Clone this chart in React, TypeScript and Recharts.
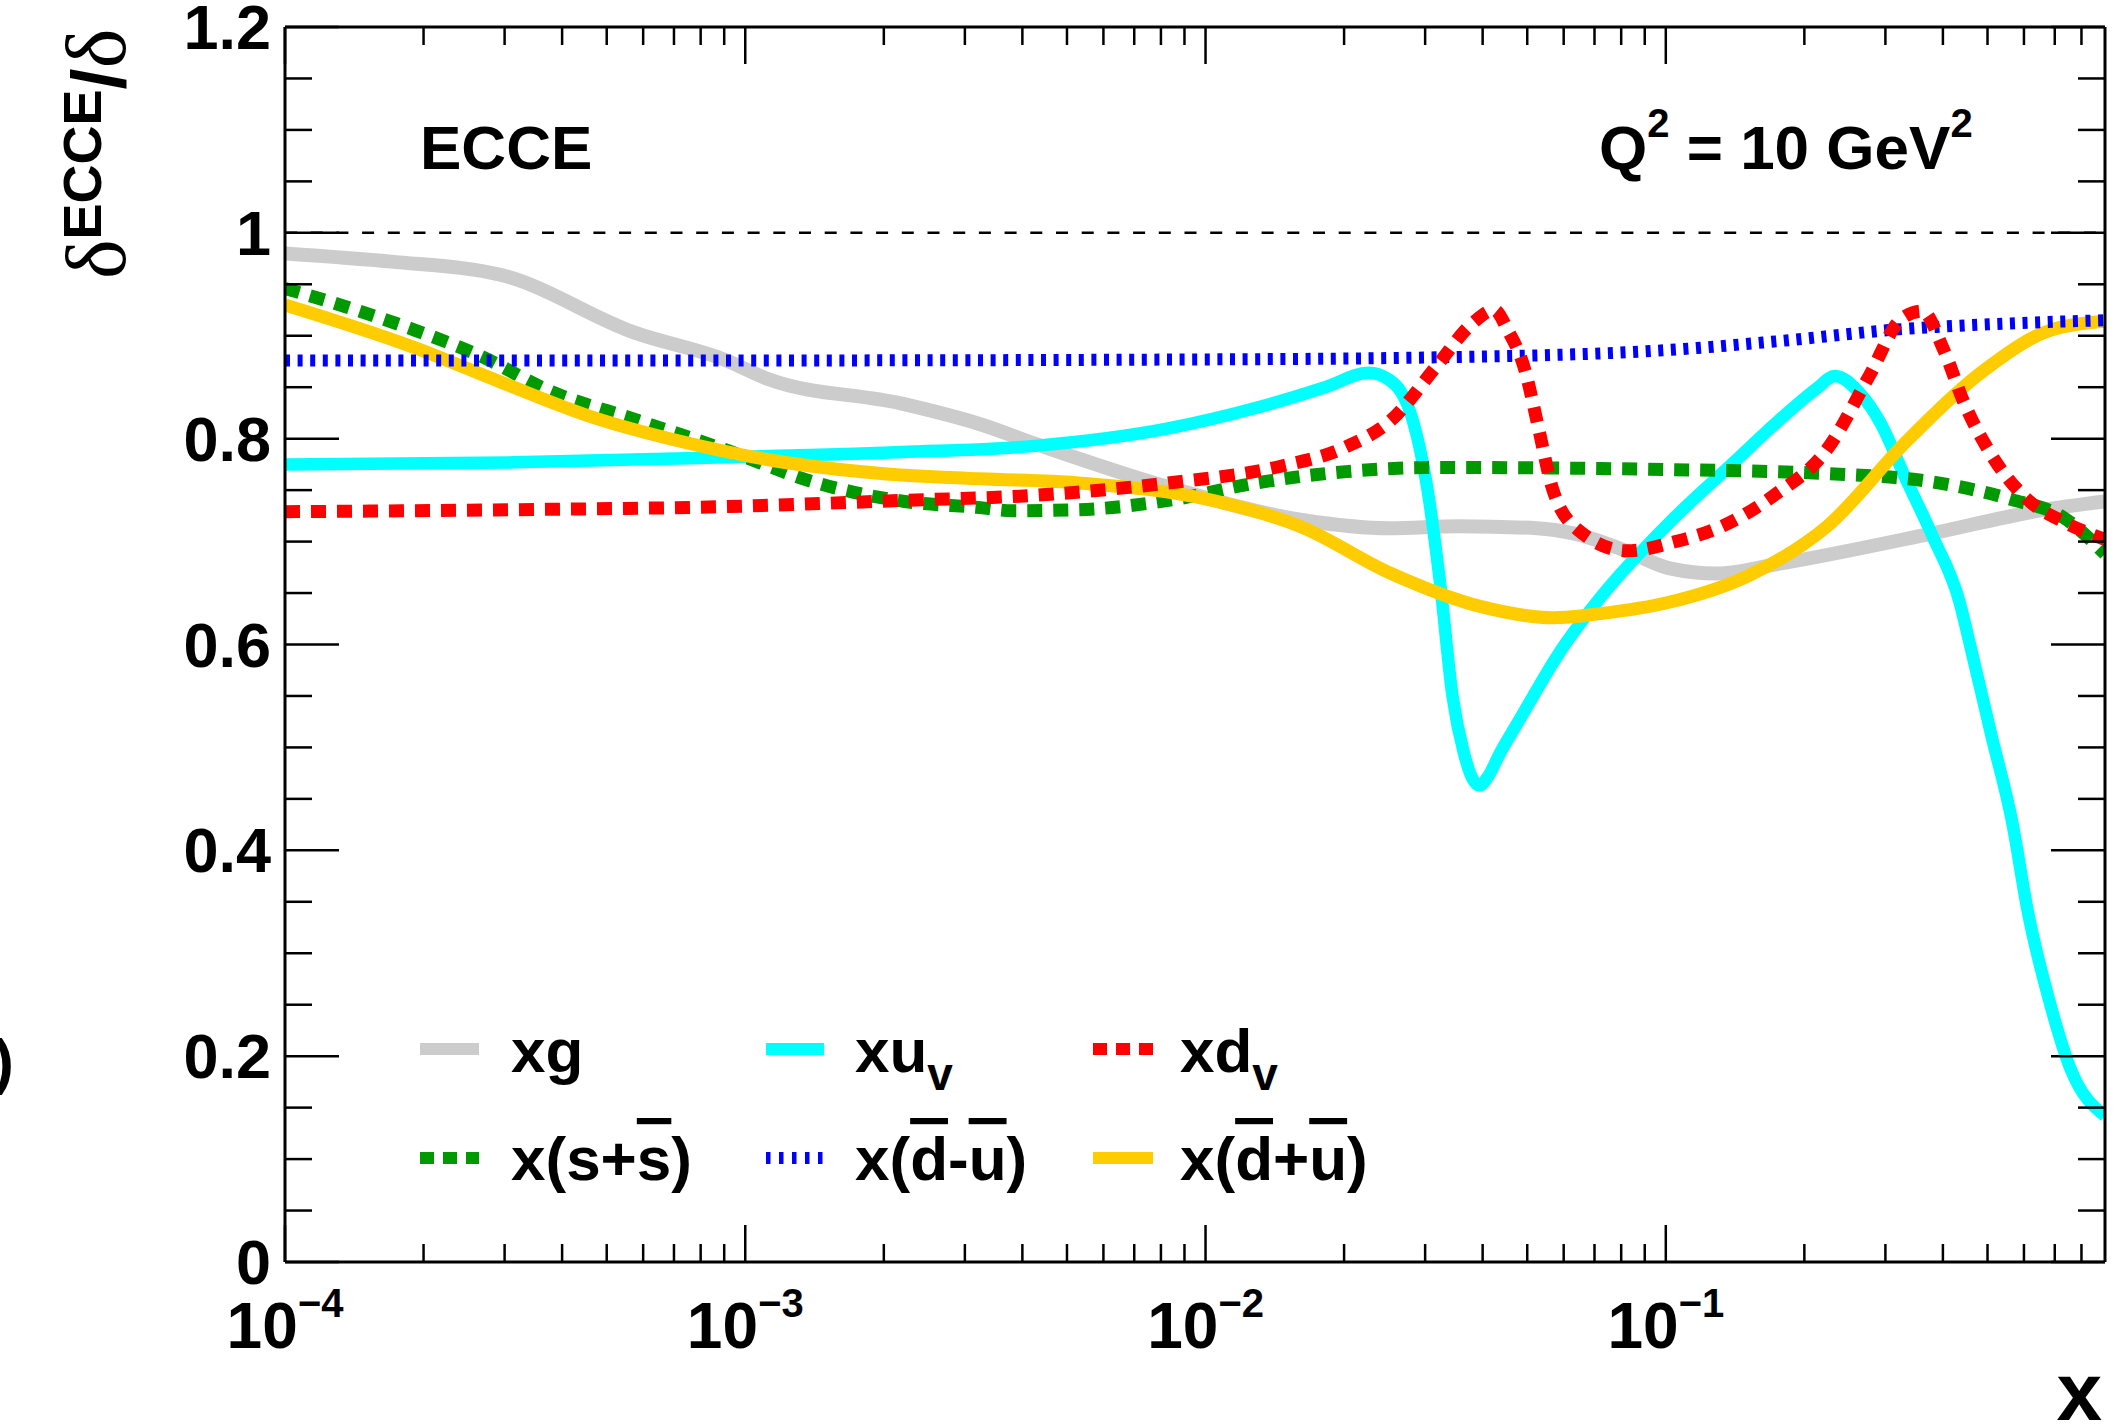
import React from 'react';
import { LineChart, Line, XAxis, YAxis, ReferenceLine } from 'recharts';

const W = 2127;
const H = 1427;
const FF = "'Liberation Sans', Arial, Helvetica, sans-serif";
const SERIF = "'Liberation Serif', 'DejaVu Serif', serif";

// ---- axis ticks ----
const X_TICKS = [
  0.0001, 0.0002, 0.0003, 0.0004, 0.0005, 0.0006, 0.0007, 0.0008, 0.0009,
  0.001, 0.002, 0.003, 0.004, 0.005, 0.006, 0.007, 0.008, 0.009,
  0.01, 0.02, 0.03, 0.04, 0.05, 0.06, 0.07, 0.08, 0.09,
  0.1, 0.2, 0.3, 0.4, 0.5, 0.6, 0.7, 0.8,
];
const X_MAJOR = [0.0001, 0.001, 0.01, 0.1];
const X_MAJOR_EXP = ['\u22124', '\u22123', '\u22122', '\u22121'];
const Y_TICKS = [
  0, 0.05, 0.1, 0.15, 0.2, 0.25, 0.3, 0.35, 0.4, 0.45, 0.5, 0.55, 0.6,
  0.65, 0.7, 0.75, 0.8, 0.85, 0.9, 0.95, 1, 1.05, 1.1, 1.15, 1.2,
];
const Y_MAJOR = [0, 0.2, 0.4, 0.6, 0.8, 1, 1.2];
const Y_LABELS = ['0', '0.2', '0.4', '0.6', '0.8', '1', '1.2'];

// ---- series ----
const XG_X = [0.0001, 0.00017, 0.000295, 0.000575, 0.00091, 0.00112, 0.00219, 0.00324, 0.00427, 0.0083, 0.0162, 0.0251, 0.0355, 0.0525, 0.063, 0.083, 0.102, 0.129, 0.174, 0.38, 0.646, 0.9];
const XG_Y = [0.98, 0.972, 0.959, 0.903, 0.876, 0.858, 0.834, 0.814, 0.795, 0.753, 0.721, 0.713, 0.715, 0.713, 0.708, 0.69, 0.674, 0.669, 0.678, 0.708, 0.73, 0.739];

const XUV_X = [0.0001, 0.000316, 0.00091, 0.00219, 0.00427, 0.0083, 0.0129, 0.0182, 0.0226, 0.0251, 0.0282, 0.0303, 0.0324, 0.0344, 0.0364, 0.038, 0.0394, 0.041, 0.0437, 0.0481, 0.0589, 0.0722, 0.1016, 0.139, 0.1816, 0.213, 0.233, 0.263, 0.292, 0.333, 0.381, 0.435, 0.458, 0.509, 0.566, 0.612, 0.681, 0.757, 0.9];
const XUV_Y = [0.775, 0.777, 0.782, 0.787, 0.793, 0.81, 0.83, 0.85, 0.864, 0.857, 0.818, 0.753, 0.656, 0.55, 0.495, 0.47, 0.463, 0.471, 0.495, 0.527, 0.593, 0.646, 0.718, 0.775, 0.823, 0.849, 0.861, 0.845, 0.816, 0.76, 0.704, 0.641, 0.6, 0.513, 0.427, 0.34, 0.254, 0.188, 0.142];

const XDV_X = [0.0001, 0.000316, 0.00091, 0.00219, 0.00427, 0.0083, 0.0145, 0.0202, 0.0253, 0.0317, 0.038, 0.0424, 0.0453, 0.0494, 0.0528, 0.0566, 0.0646, 0.0824, 0.105, 0.1327, 0.172, 0.2244, 0.2767, 0.3243, 0.3606, 0.401, 0.4446, 0.507, 0.61, 0.733, 0.9];
const XDV_Y = [0.729, 0.731, 0.734, 0.74, 0.745, 0.757, 0.773, 0.792, 0.818, 0.87, 0.912, 0.925, 0.906, 0.867, 0.812, 0.753, 0.711, 0.691, 0.7, 0.715, 0.745, 0.79, 0.861, 0.916, 0.924, 0.887, 0.835, 0.786, 0.741, 0.719, 0.702];

const XSS_X = [0.0001, 0.000136, 0.00019, 0.000267, 0.000373, 0.000582, 0.000908, 0.00143, 0.00222, 0.00324, 0.0038, 0.00528, 0.0083, 0.0129, 0.0202, 0.0317, 0.072, 0.1016, 0.2244, 0.379, 0.562, 0.733, 0.9];
const XSS_Y = [0.946, 0.928, 0.906, 0.88, 0.847, 0.818, 0.789, 0.757, 0.739, 0.733, 0.73, 0.731, 0.74, 0.757, 0.768, 0.772, 0.771, 0.77, 0.766, 0.758, 0.741, 0.723, 0.688];

const XDMU_X = [0.0001, 0.001, 0.01, 0.0316, 0.1, 0.178, 0.316, 0.562, 0.9];
const XDMU_Y = [0.876, 0.876, 0.877, 0.879, 0.886, 0.895, 0.906, 0.912, 0.915];

const XDPU_X = [0.0001, 0.00019, 0.000298, 0.000465, 0.00073, 0.00114, 0.002, 0.00324, 0.00528, 0.01035, 0.0162, 0.0253, 0.0395, 0.0569, 0.072, 0.1016, 0.1514, 0.2244, 0.3327, 0.4966, 0.681, 0.9];
const XDPU_Y = [0.93, 0.889, 0.854, 0.821, 0.797, 0.779, 0.766, 0.761, 0.757, 0.74, 0.714, 0.669, 0.637, 0.626, 0.63, 0.641, 0.667, 0.715, 0.797, 0.868, 0.905, 0.914];

const toData = (xs: number[], ys: number[]) => xs.map((x, i) => ({ x, y: ys[i] }));

const SERIES = [
  { key: 'xg', data: toData(XG_X, XG_Y), color: '#cccccc', width: 14, dash: undefined as string | undefined },
  { key: 'xuv', data: toData(XUV_X, XUV_Y), color: '#00ffff', width: 12.5, dash: undefined },
  { key: 'xss', data: toData(XSS_X, XSS_Y), color: '#009900', width: 13, dash: '15 11' },
  { key: 'xdpu', data: toData(XDPU_X, XDPU_Y), color: '#ffcc00', width: 13, dash: undefined },
  { key: 'xdmu', data: toData(XDMU_X, XDMU_Y), color: '#0000ff', width: 12, dash: '5 7.6' },
  { key: 'xdv', data: toData(XDV_X, XDV_Y), color: '#ff0000', width: 13, dash: '15 11' },
];

// ---- ticks ----
const BottomTick = (p: any) => {
  const { x, y, payload } = p;
  const i = X_MAJOR.indexOf(payload.value);
  const major = i >= 0;
  return (
    <g>
      <line x1={x} x2={x} y1={y} y2={y - (major ? 37 : 18)} stroke="#000" strokeWidth={2.5} />
      {major && (
        <text x={x} y={y + 86} textAnchor="middle" fontFamily={FF} fontWeight="bold" fontSize={64} fill="#000">
          10
          <tspan dy={-31} fontSize={40}>{X_MAJOR_EXP[i]}</tspan>
        </text>
      )}
    </g>
  );
};

const TopTick = (p: any) => {
  const { x, y, payload } = p;
  const major = X_MAJOR.indexOf(payload.value) >= 0;
  return <line x1={x} x2={x} y1={y} y2={y + (major ? 37 : 18)} stroke="#000" strokeWidth={2.5} />;
};

const LeftTick = (p: any) => {
  const { x, y, payload } = p;
  const i = Y_MAJOR.indexOf(payload.value);
  const major = i >= 0;
  return (
    <g>
      <line x1={x} x2={x + (major ? 54 : 27)} y1={y} y2={y} stroke="#000" strokeWidth={2.5} />
      {major && (
        <text x={x - 14} y={y + 22} textAnchor="end" fontFamily={FF} fontWeight="bold" fontSize={63} fill="#000">
          {Y_LABELS[i]}
        </text>
      )}
    </g>
  );
};

const RightTick = (p: any) => {
  const { x, y, payload } = p;
  const major = Y_MAJOR.indexOf(payload.value) >= 0;
  return <line x1={x} x2={x - (major ? 54 : 27)} y1={y} y2={y} stroke="#000" strokeWidth={2.5} />;
};

const axisLine = { stroke: '#000', strokeWidth: 3 };

const txt = { fontFamily: FF, fontWeight: 'bold' as const, fill: '#000' };
const over = { textDecoration: 'overline', textDecorationThickness: '2px' } as any;

export default function App() {
  return (
    <div style={{ position: 'absolute', left: 0, top: 0, width: W, height: H, background: '#fff' }}>
      <LineChart width={W} height={H} margin={{ top: 0, right: 0, bottom: 0, left: 0 }}>
        <XAxis
          xAxisId={0}
          dataKey="x"
          type="number"
          scale="log"
          domain={[0.0001, 0.9]}
          allowDataOverflow
          ticks={X_TICKS}
          interval={0}
          height={165}
          tickSize={0}
          tickMargin={0}
          tickLine={false}
          axisLine={axisLine}
          tick={(p: any) => <BottomTick {...p} />}
        />
        <XAxis
          xAxisId="top"
          orientation="top"
          dataKey="x"
          type="number"
          scale="log"
          domain={[0.0001, 0.9]}
          allowDataOverflow
          ticks={X_TICKS}
          interval={0}
          height={27}
          tickSize={0}
          tickMargin={0}
          tickLine={false}
          axisLine={axisLine}
          tick={(p: any) => <TopTick {...p} />}
        />
        <YAxis
          yAxisId={0}
          type="number"
          domain={[0, 1.2]}
          allowDataOverflow
          ticks={Y_TICKS}
          interval={0}
          width={285}
          tickSize={0}
          tickMargin={0}
          tickLine={false}
          axisLine={axisLine}
          tick={(p: any) => <LeftTick {...p} />}
        />
        <YAxis
          yAxisId="right"
          orientation="right"
          type="number"
          domain={[0, 1.2]}
          allowDataOverflow
          ticks={Y_TICKS}
          interval={0}
          width={22}
          tickSize={0}
          tickMargin={0}
          tickLine={false}
          axisLine={axisLine}
          tick={(p: any) => <RightTick {...p} />}
        />
        <ReferenceLine y={1} stroke="#000" strokeWidth={2.5} strokeDasharray="12 13.7" ifOverflow="hidden" />
        {SERIES.map((s) => (
          <Line
            key={s.key}
            data={s.data}
            dataKey="y"
            type="monotone"
            stroke={s.color}
            strokeWidth={s.width}
            strokeDasharray={s.dash}
            dot={false}
            activeDot={false}
            isAnimationActive={false}
          />
        ))}
      </LineChart>

      <svg width={W} height={H} style={{ position: 'absolute', left: 0, top: 0, pointerEvents: 'none' }}>
        {/* y-axis title */}
        <text transform="rotate(-90)" x={-279} y={125} fill="#000">
          <tspan fontFamily={SERIF} fontSize={84}>δ</tspan>
          <tspan fontFamily={FF} fontWeight="bold" fontSize={54} dy={-24}>ECCE</tspan>
          <tspan fontFamily={FF} fontWeight="bold" fontSize={76} dy={24}>/</tspan>
          <tspan fontFamily={SERIF} fontSize={84}>δ</tspan>
        </text>
        {/* partially visible glyph at left edge */}
        <text x={14} y={1082} textAnchor="end" fontSize={62} {...txt}>)</text>

        <text x={420} y={169} fontSize={62} {...txt}>ECCE</text>
        <text x={1599} y={169} fontSize={62} {...txt}>
          Q<tspan dy={-32} fontSize={40}>2</tspan>
          <tspan dy={32} fontSize={62}> = 10 GeV</tspan>
          <tspan dy={-32} fontSize={40}>2</tspan>
        </text>

        {/* x-axis title */}
        <text x={2102} y={1420} textAnchor="end" fontSize={82} {...txt}>x</text>

        {/* legend */}
        <line x1={420} x2={479} y1={1049} y2={1049} stroke="#cccccc" strokeWidth={12} />
        <text x={511} y={1072} fontSize={62} {...txt}>xg</text>

        <line x1={766} x2={824} y1={1049} y2={1049} stroke="#00ffff" strokeWidth={12} />
        <text x={855} y={1072} fontSize={62} {...txt}>
          xu<tspan dy={18} fontSize={46}>v</tspan>
        </text>

        <line x1={1093} x2={1153} y1={1049} y2={1049} stroke="#ff0000" strokeWidth={12} strokeDasharray="14 9" />
        <text x={1180} y={1072} fontSize={62} {...txt}>
          xd<tspan dy={18} fontSize={46}>v</tspan>
        </text>

        <line x1={420} x2={479} y1={1158} y2={1158} stroke="#009900" strokeWidth={12} strokeDasharray="14 9" />
        <text x={511} y={1180} fontSize={62} {...txt}>
          x(s+<tspan style={over}>s</tspan>)
        </text>

        <line x1={766} x2={824} y1={1158} y2={1158} stroke="#0000ff" strokeWidth={12} strokeDasharray="4.5 8.5" />
        <text x={855} y={1180} fontSize={62} {...txt}>
          x(<tspan style={over}>d</tspan>-<tspan style={over}>u</tspan>)
        </text>

        <line x1={1093} x2={1153} y1={1158} y2={1158} stroke="#ffcc00" strokeWidth={12} />
        <text x={1180} y={1180} fontSize={62} {...txt}>
          x(<tspan style={over}>d</tspan>+<tspan style={over}>u</tspan>)
        </text>
      </svg>
    </div>
  );
}
